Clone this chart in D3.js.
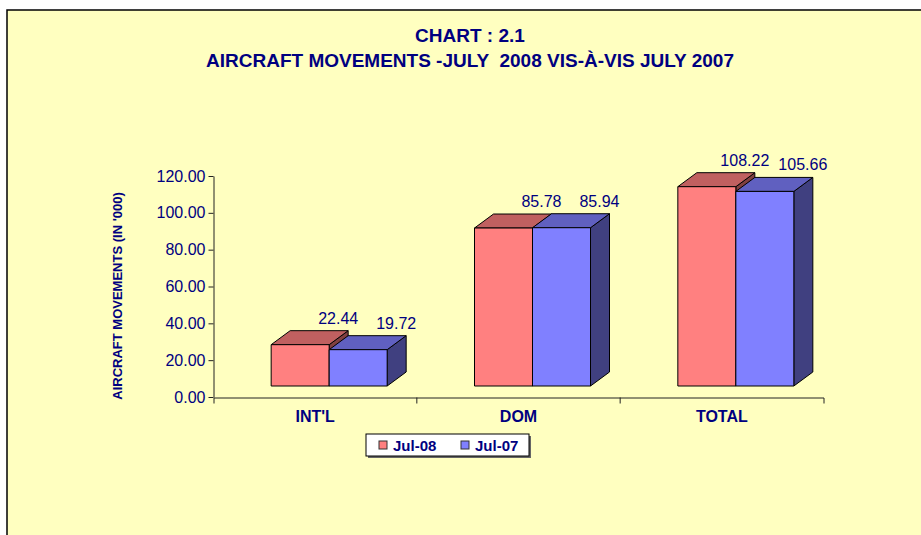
<!DOCTYPE html>
<html>
<head>
<meta charset="utf-8">
<script src="https://cdn.jsdelivr.net/npm/d3@7"></script>
<style>
  body { margin: 0; background: #fff; }
  text { font-family: "Liberation Sans", Arial, sans-serif; }
</style>
</head>
<body>
<svg id="chart" width="921" height="535"></svg>
<script>
(() => {
    const categories = ["INT'L", "DOM", "TOTAL"];
    const jul08 = [22.44, 85.78, 108.22];
    const jul07 = [19.72, 85.94, 105.66];
    const seriesNames = ["Jul-08", "Jul-07"];
    const yTicks = [0, 20, 40, 60, 80, 100, 120];

    const navy = "#000080";
    const svg = d3.select("#chart");

    // chart area background + border
    svg.append("rect")
        .attr("x", 7).attr("y", 10)
        .attr("width", 930).attr("height", 540)
        .attr("fill", "#FFFFC0")
        .attr("stroke", "#000").attr("stroke-width", 1.5);

    // titles
    svg.append("text").attr("x", 470).attr("y", 42)
        .attr("text-anchor", "middle").attr("font-size", 19).attr("font-weight", "bold")
        .attr("fill", navy).text("CHART : 2.1");
    svg.append("text").attr("x", 470).attr("y", 67)
        .attr("text-anchor", "middle").attr("font-size", 19).attr("font-weight", "bold")
        .attr("fill", navy).attr("xml:space", "preserve")
        .text("AIRCRAFT MOVEMENTS -JULY  2008 VIS-\u00C0-VIS JULY 2007");

    const x = d3.scaleBand().domain(categories).range([213.5, 823.5]);
    const y = d3.scaleLinear().domain([0, 120]).range([397, 176]);

    // y axis
    const yAxis = svg.append("g").attr("transform", "translate(213.5,0)")
        .call(d3.axisLeft(y).tickValues(yTicks).tickFormat(d3.format(".2f")).tickSize(5).tickSizeOuter(0).tickPadding(3));
    yAxis.selectAll("text").attr("font-size", 16).attr("fill", navy).attr("font-family", null);
    yAxis.selectAll("line,path").attr("stroke", "#222");

    // x axis
    const xAxis = svg.append("g").attr("transform", "translate(0,397.5)")
        .call(d3.axisBottom(x).tickSize(0).tickSizeOuter(6).tickPadding(13));
    xAxis.selectAll("text").attr("font-size", 16).attr("font-weight", "bold").attr("fill", navy).attr("font-family", null);
    xAxis.selectAll("path").attr("stroke", "#222");
    xAxis.selectAll(".bound").data(categories.slice(1)).enter().append("line")
        .attr("class", "bound")
        .attr("x1", d => x(d)).attr("x2", d => x(d))
        .attr("y1", 0).attr("y2", 6).attr("stroke", "#222");

    // y axis title
    svg.append("text")
        .attr("transform", "translate(122,296) rotate(-90)")
        .attr("text-anchor", "middle").attr("font-size", 13).attr("font-weight", "bold")
        .attr("fill", navy).text("AIRCRAFT MOVEMENTS (IN '000)");

    // 3D bars
    const barW = 58, dx = 19, dy = -14, lift = 11;
    const styles = [
        { front: "#FF8080", top: "#C06060", side: "#804040" },
        { front: "#8080FF", top: "#6060C0", side: "#404080" }
    ];
    const series = [jul08, jul07];
    const bars = svg.append("g");

    categories.forEach((c, i) => {
        const x0 = x(c) + x.bandwidth() / 2 - 44;
        series.forEach((vals, s) => {
            const v = vals[i];
            const l = x0 + s * barW, r = l + barW;
            const t = y(v) - lift, b = y(0) - lift;
            const st = styles[s];
            const g = bars.append("g").attr("stroke", "#000").attr("stroke-width", 1).attr("stroke-linejoin", "round");
            g.append("polygon")
                .attr("points", [[r, t], [r + dx, t + dy], [r + dx, b + dy], [r, b]].join(" "))
                .attr("fill", st.side);
            g.append("polygon")
                .attr("points", [[l, t], [l + dx, t + dy], [r + dx, t + dy], [r, t]].join(" "))
                .attr("fill", st.top);
            g.append("rect")
                .attr("x", l).attr("y", t).attr("width", barW).attr("height", b - t)
                .attr("fill", st.front);
            svg.append("text")
                .attr("x", (l + r) / 2 + 38).attr("y", t + dy - 7)
                .attr("text-anchor", "middle").attr("font-size", 16)
                .attr("fill", navy).text(d3.format(".2f")(v));
        });
    });

    // legend
    const lg = svg.append("g").attr("transform", "translate(366,434)");
    lg.append("rect").attr("x", 2).attr("y", 2).attr("width", 163).attr("height", 22).attr("fill", "#666");
    lg.append("rect").attr("width", 163).attr("height", 22).attr("fill", "#fff").attr("stroke", "#000");
    seriesNames.forEach((n, s) => {
        const ox = 13 + s * 82;
        lg.append("rect").attr("x", ox).attr("y", 7).attr("width", 8).attr("height", 8)
            .attr("fill", styles[s].front).attr("stroke", "#333");
        lg.append("text").attr("x", ox + 14).attr("y", 16.5)
            .attr("font-size", 15).attr("font-weight", "bold").attr("fill", navy).text(n);
    });
})();
</script>
</body>
</html>
